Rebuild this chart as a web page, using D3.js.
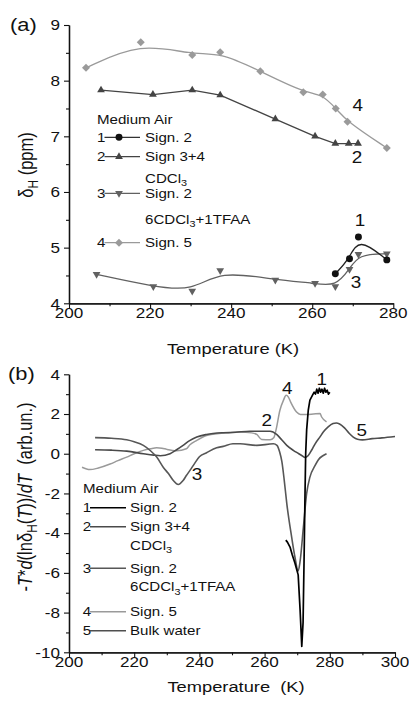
<!DOCTYPE html>
<html><head><meta charset="utf-8">
<script src="https://cdn.jsdelivr.net/npm/d3@7"></script>
<style>html,body{margin:0;padding:0;background:#fff;} svg{display:block;}</style>
</head><body>
<svg id="chart" width="409" height="706"></svg>
<script>
// ---------------- DATA ----------------
// Panel (a): chemical shift deltaH (ppm) vs temperature (K)
const a1 = [[265.7,4.53],[269.2,4.80],[271.4,5.19],[278.4,4.78]];                       // Sign. 2 (air)
const a2 = [[207.9,7.83],[220.7,7.75],[230.4,7.83],[237.3,7.74],[250.9,7.31],[260.7,7.00],[265.7,6.87],[269.0,6.87],[271.3,6.87]]; // Sign 3+4 CDCl3
const a3 = [[206.8,4.52],[220.8,4.30],[230.4,4.22],[237.3,4.59],[250.9,4.42],[260.7,4.36],[265.7,4.30],[269.2,4.61],[271.4,4.88],[278.4,4.89]]; // Sign. 2 6CDCl3+1TFAA
const a4 = [[204.2,8.23],[217.7,8.69],[230.4,8.46],[237.3,8.51],[247.2,8.17],[257.8,7.79],[262.6,7.75],[265.8,7.50],[268.7,7.26],[278.4,6.79]]; // Sign. 5
const aXTicks = [200,220,240,260,280];
const aYTicks = [4,5,6,7,8,9];

// Panel (b): -T*d(ln deltaH)/dT (arb.un.)
const b1 = [[266.5,-4.35],[267.0,-4.45],[267.8,-4.7],[268.5,-5.1],[269.3,-5.5],[270.3,-6.1],[270.9,-7.9],[271.4,-9.7],[271.8,-8.5],[272.1,-5.4],[272.4,-2.0],[272.6,0.0],[272.9,1.2],[273.4,2.2],[273.9,2.7],[274.7,2.95],[275.2,3.1],[275.6,3.0],[276.0,3.25],[276.4,3.05],[276.8,3.3],[277.2,3.1],[277.6,3.25],[278.0,3.05],[278.4,3.3],[278.8,3.1],[279.2,3.2],[279.6,3.0],[280.0,3.1]];
const b2 = [[208,0.2],[213,0.18],[217.7,0.13],[222.8,0.0],[226,-0.07],[228,-0.1],[231,0.0],[233,0.2],[235,0.42],[237,0.66],[239.2,0.84],[242.2,0.97],[247.3,1.06],[251,1.08],[255.5,1.13],[261.7,1.13],[263.7,0.97],[265,0.75],[266.8,0.42],[268.8,0.17],[270.5,0.0],[272.4,-0.2]];
const b3 = [[208,0.81],[213,0.78],[217.7,0.7],[220,0.6],[222.8,0.42],[225,0.15],[226.9,-0.17],[228.9,-0.68],[230.5,-1.0],[232,-1.35],[233.5,-1.55],[235,-1.35],[236,-1.1],[237.1,-0.84],[238.5,-0.5],[240,-0.15],[242.2,0.05],[245.3,0.3],[247.3,0.37],[250.3,0.5],[252.5,0.5],[257.6,0.42],[262.7,0.5],[263.8,0.42],[264.6,0.1],[265.3,-0.4],[266.0,-1.3],[266.8,-2.5],[268.3,-4.2],[269.3,-5.2],[270.3,-5.9],[270.9,-5.4],[271.9,-3.7],[272.9,-2.0],[273.9,-1.18],[275.5,-0.59],[276.5,-0.3],[278,-0.09],[279,0.0]];
const b4 = [[204,-0.68],[206.4,-0.8],[209,-0.72],[212.6,-0.52],[215,-0.35],[217.7,-0.17],[220,0.0],[222.8,0.17],[225,0.25],[226.9,0.3],[228.5,0.28],[230,0.22],[233,0.15],[236,0.25],[237.1,0.45],[239.2,0.67],[242.2,0.92],[246,1.02],[249,1.05],[252.5,1.09],[256,1.05],[257.6,0.97],[259.1,0.72],[261.7,0.7],[262.8,0.8],[263.5,1.2],[264.7,2.19],[265.8,2.7],[266.6,2.94],[267.3,2.85],[268,2.6],[269.8,2.1],[271,1.98],[272.9,1.98],[275,2.0],[277,2.02],[277.5,1.85],[279,1.6]];
const b5 = [[272.4,-0.2],[273.4,-0.09],[274.5,0.2],[275.5,0.5],[277,0.85],[278,1.09],[279.5,1.35],[281,1.52],[282,1.55],[283,1.5],[284.5,1.3],[286,1.02],[287.2,0.84],[288.5,0.73],[290,0.7],[293,0.76],[296,0.8],[300,0.87]];
const bXTicks = [200,220,240,260,280,300];
const bYTicks = [4,2,0,-2,-4,-6,-8,-10];

// ---------------- SETUP ----------------
const SX = 1.18;
const FONT = "'Liberation Sans', Arial, Helvetica, sans-serif";
const svg = d3.select("#chart");

// rich text helper; parts: [{t, sub, it}]
function rich(sel, parts, size) {
  let shift = 0;
  parts.forEach(p => {
    const ts = sel.append("tspan").text(p.t);
    if (p.it) ts.attr("font-style", "italic");
    if (p.sub) {
      ts.attr("font-size", size * 0.72).attr("dy", size * 0.28 - shift);
      shift = size * 0.28;
    } else if (shift !== 0) {
      ts.attr("dy", -shift); shift = 0;
    }
  });
}
function txt(x, y, content, size, anchor = "start", rot = false) {
  const t = svg.append("text")
    .attr("transform", rot ? `translate(${x},${y}) rotate(-90) scale(1,${SX})` : `translate(${x},${y}) scale(${SX},1)`)
    .attr("font-size", size).attr("font-family", FONT)
    .attr("text-anchor", anchor).attr("fill", "#111")
    .style("white-space", "pre");
  if (typeof content === "string") t.text(content); else rich(t, content, size);
  return t;
}

function drawAxes(x, y, xt, xminor, yt, yminor) {
  const [x0, x1] = x.range(); const [y0] = y.range();
  const g = svg.append("g");
  g.append("g").attr("transform", `translate(0,${y0})`)
    .call(d3.axisBottom(x).tickValues(xt).tickSize(5).tickFormat("").tickSizeOuter(0));
  g.append("g").attr("transform", `translate(0,${y0})`)
    .call(d3.axisBottom(x).tickValues(xminor).tickSize(3).tickFormat("").tickSizeOuter(0));
  g.append("g").attr("transform", `translate(${x0},0)`)
    .call(d3.axisLeft(y).tickValues(yt).tickSize(5).tickFormat("").tickSizeOuter(0));
  g.append("g").attr("transform", `translate(${x0},0)`)
    .call(d3.axisLeft(y).tickValues(yminor).tickSize(3).tickFormat("").tickSizeOuter(0));
  g.selectAll("path.domain").attr("stroke", "#111").attr("stroke-width", 1.3);
  g.selectAll(".tick line").attr("stroke", "#111").attr("stroke-width", 1.1);
  xt.forEach(v => txt(x(v), y0 + 14.7, String(v), 14.5, "middle"));
  yt.forEach(v => txt(60, y(v) + 5.2, String(v), 14.5, "end"));
}

// ---------------- PANEL (a) ----------------
const xA = d3.scaleLinear().domain([200, 280]).range([69, 393.3]);
const yA = d3.scaleLinear().domain([4, 9]).range([303.3, 25]);
const xAminor = [210,230,250,270];
const yAminor = [4.5,5.5,6.5,7.5,8.5];

drawAxes(xA, yA, aXTicks, xAminor, aYTicks, yAminor);

const lineA = c => d3.line().x(d => xA(d[0])).y(d => yA(d[1])).curve(c);
const seriesA = [
  {d: a4, col: "#9a9a9a", sym: "diamond", curve: d3.curveBasis},
  {d: a2, col: "#444", sym: "up", curve: d3.curveLinear},
  {d: a3, col: "#616161", sym: "down", curve: d3.curveBasis},
  {d: a1, col: "#111", sym: "circle", curve: d3.curveBasis},
];
function symbolPath(s) {
  if (s === "diamond") return d3.symbol(d3.symbolSquare, 32)();
  if (s === "circle") return d3.symbol(d3.symbolCircle, 38)();
  return d3.symbol(d3.symbolTriangle, 26)();
}
function symRot(s) { return s === "diamond" ? 45 : (s === "down" ? 180 : 0); }

seriesA.forEach(s => {
  svg.append("path").attr("d", lineA(s.curve)(s.d)).attr("fill", "none")
    .attr("stroke", s.col === "#111" ? "#222" : s.col).attr("stroke-width", 1.3);
});
seriesA.forEach(s => {
  svg.append("g").selectAll("path").data(s.d).join("path")
    .attr("d", symbolPath(s.sym))
    .attr("transform", d => `translate(${xA(d[0])},${yA(d[1])}) rotate(${symRot(s.sym)})`)
    .attr("fill", s.col);
});

// panel (a) text
txt(10, 30.5, "(a)", 18.5);
txt(33, 165, [{t: "δ"}, {t: "H", sub: true}, {t: " (ppm)"}], 16.5, "middle", true);
txt(233, 353.5, "Temperature (K)", 15.5, "middle");
txt(357.7, 111.4, "4", 16, "middle");
txt(357, 162.7, "2", 16, "middle");
txt(360, 225.7, "1", 16, "middle");
txt(356, 288.4, "3", 16, "middle");

// legend (a)
const LF = 12.8;
txt(97, 123.9, "Medium Air", LF);
const legA = [
  {n: "1", y: 137.3, s: seriesA[3], lines: [["Sign. 2", 0]]},
  {n: "2", y: 156.7, s: seriesA[1], lines: [["Sign 3+4", 0], [[{t:"CDCl"},{t:"3",sub:true}], 21.6]]},
  {n: "3", y: 193.3, s: seriesA[2], lines: [["Sign. 2", 0], [[{t:"6CDCl"},{t:"3",sub:true},{t:"+1TFAA"}], 25.7]]},
  {n: "4", y: 242.7, s: seriesA[0], lines: [["Sign. 5", 0]]},
];
legA.forEach(l => {
  txt(97, l.y + 4.6, l.n, LF);
  svg.append("line").attr("x1", 104.5).attr("x2", 140).attr("y1", l.y).attr("y2", l.y)
    .attr("stroke", l.s.col === "#111" ? "#333" : l.s.col).attr("stroke-width", 1.3);
  svg.append("path").attr("d", symbolPath(l.s.sym))
    .attr("transform", `translate(119,${l.y}) rotate(${symRot(l.s.sym)})`).attr("fill", l.s.col);
  l.lines.forEach(([c, dy]) => txt(145, l.y + 4.6 + dy, c, LF));
});

// ---------------- PANEL (b) ----------------
const xB = d3.scaleLinear().domain([200, 300]).range([69, 395]);
const yB = d3.scaleLinear().domain([-10, 4]).range([652.3, 374.3]);
drawAxes(xB, yB, bXTicks, [210,230,250,270,290], bYTicks, [3,1,-1,-3,-5,-7,-9]);

const lineB = c => d3.line().x(d => xB(d[0])).y(d => yB(d[1])).curve(c);
const seriesB = [
  {d: b4, col: "#9a9a9a", w: 1.5, c: d3.curveMonotoneX},
  {d: b2, col: "#4a4a4a", w: 1.6, c: d3.curveMonotoneX},
  {d: b5, col: "#4f4f4f", w: 1.6, c: d3.curveMonotoneX},
  {d: b3, col: "#575757", w: 1.6, c: d3.curveMonotoneX},
  {d: b1, col: "#000", w: 1.7, c: d3.curveLinear},
];
seriesB.forEach(s => {
  svg.append("path").attr("d", lineB(s.c)(s.d)).attr("fill", "none")
    .attr("stroke", s.col).attr("stroke-width", s.w).attr("stroke-linejoin", "round");
});

txt(8, 379.5, "(b)", 18.5);
txt(31.5, 497, [{t:"-"},{t:"T",it:true},{t:"*"},{t:"d",it:true},{t:"(ln"},{t:"δ"},{t:"H",sub:true},{t:"("},{t:"T",it:true},{t:"))/"},{t:"dT",it:true},{t:"  (arb.un.)"}], 16.5, "middle", true);
txt(236, 691.7, "Temperature  (K)", 15.5, "middle");
txt(321.7, 385.4, "1", 16, "middle");
txt(287.3, 394, "4", 16, "middle");
txt(266.7, 425.7, "2", 16, "middle");
txt(361.7, 435.7, "5", 16, "middle");
txt(197, 479.7, "3", 16, "middle");

// legend (b)
txt(83, 493, "Medium Air", LF);
const legB = [
  {n: "1", y: 507.7, col: "#000", lines: [["Sign. 2", 0]]},
  {n: "2", y: 526.7, col: "#4a4a4a", lines: [["Sign 3+4", 0], [[{t:"CDCl"},{t:"3",sub:true}], 18.5]]},
  {n: "3", y: 568.3, col: "#575757", lines: [["Sign. 2", 0], [[{t:"6CDCl"},{t:"3",sub:true},{t:"+1TFAA"}], 18.5]]},
  {n: "4", y: 611.7, col: "#9a9a9a", lines: [["Sign. 5", 0]]},
  {n: "5", y: 630.7, col: "#4f4f4f", lines: [["Bulk water", 0]]},
];
legB.forEach(l => {
  txt(82.7, l.y + 4.6, l.n, LF);
  svg.append("line").attr("x1", 90).attr("x2", 126).attr("y1", l.y).attr("y2", l.y)
    .attr("stroke", l.col).attr("stroke-width", 1.6);
  l.lines.forEach(([c, dy]) => txt(130, l.y + 4.6 + dy, c, LF));
});
</script>
</body></html>
